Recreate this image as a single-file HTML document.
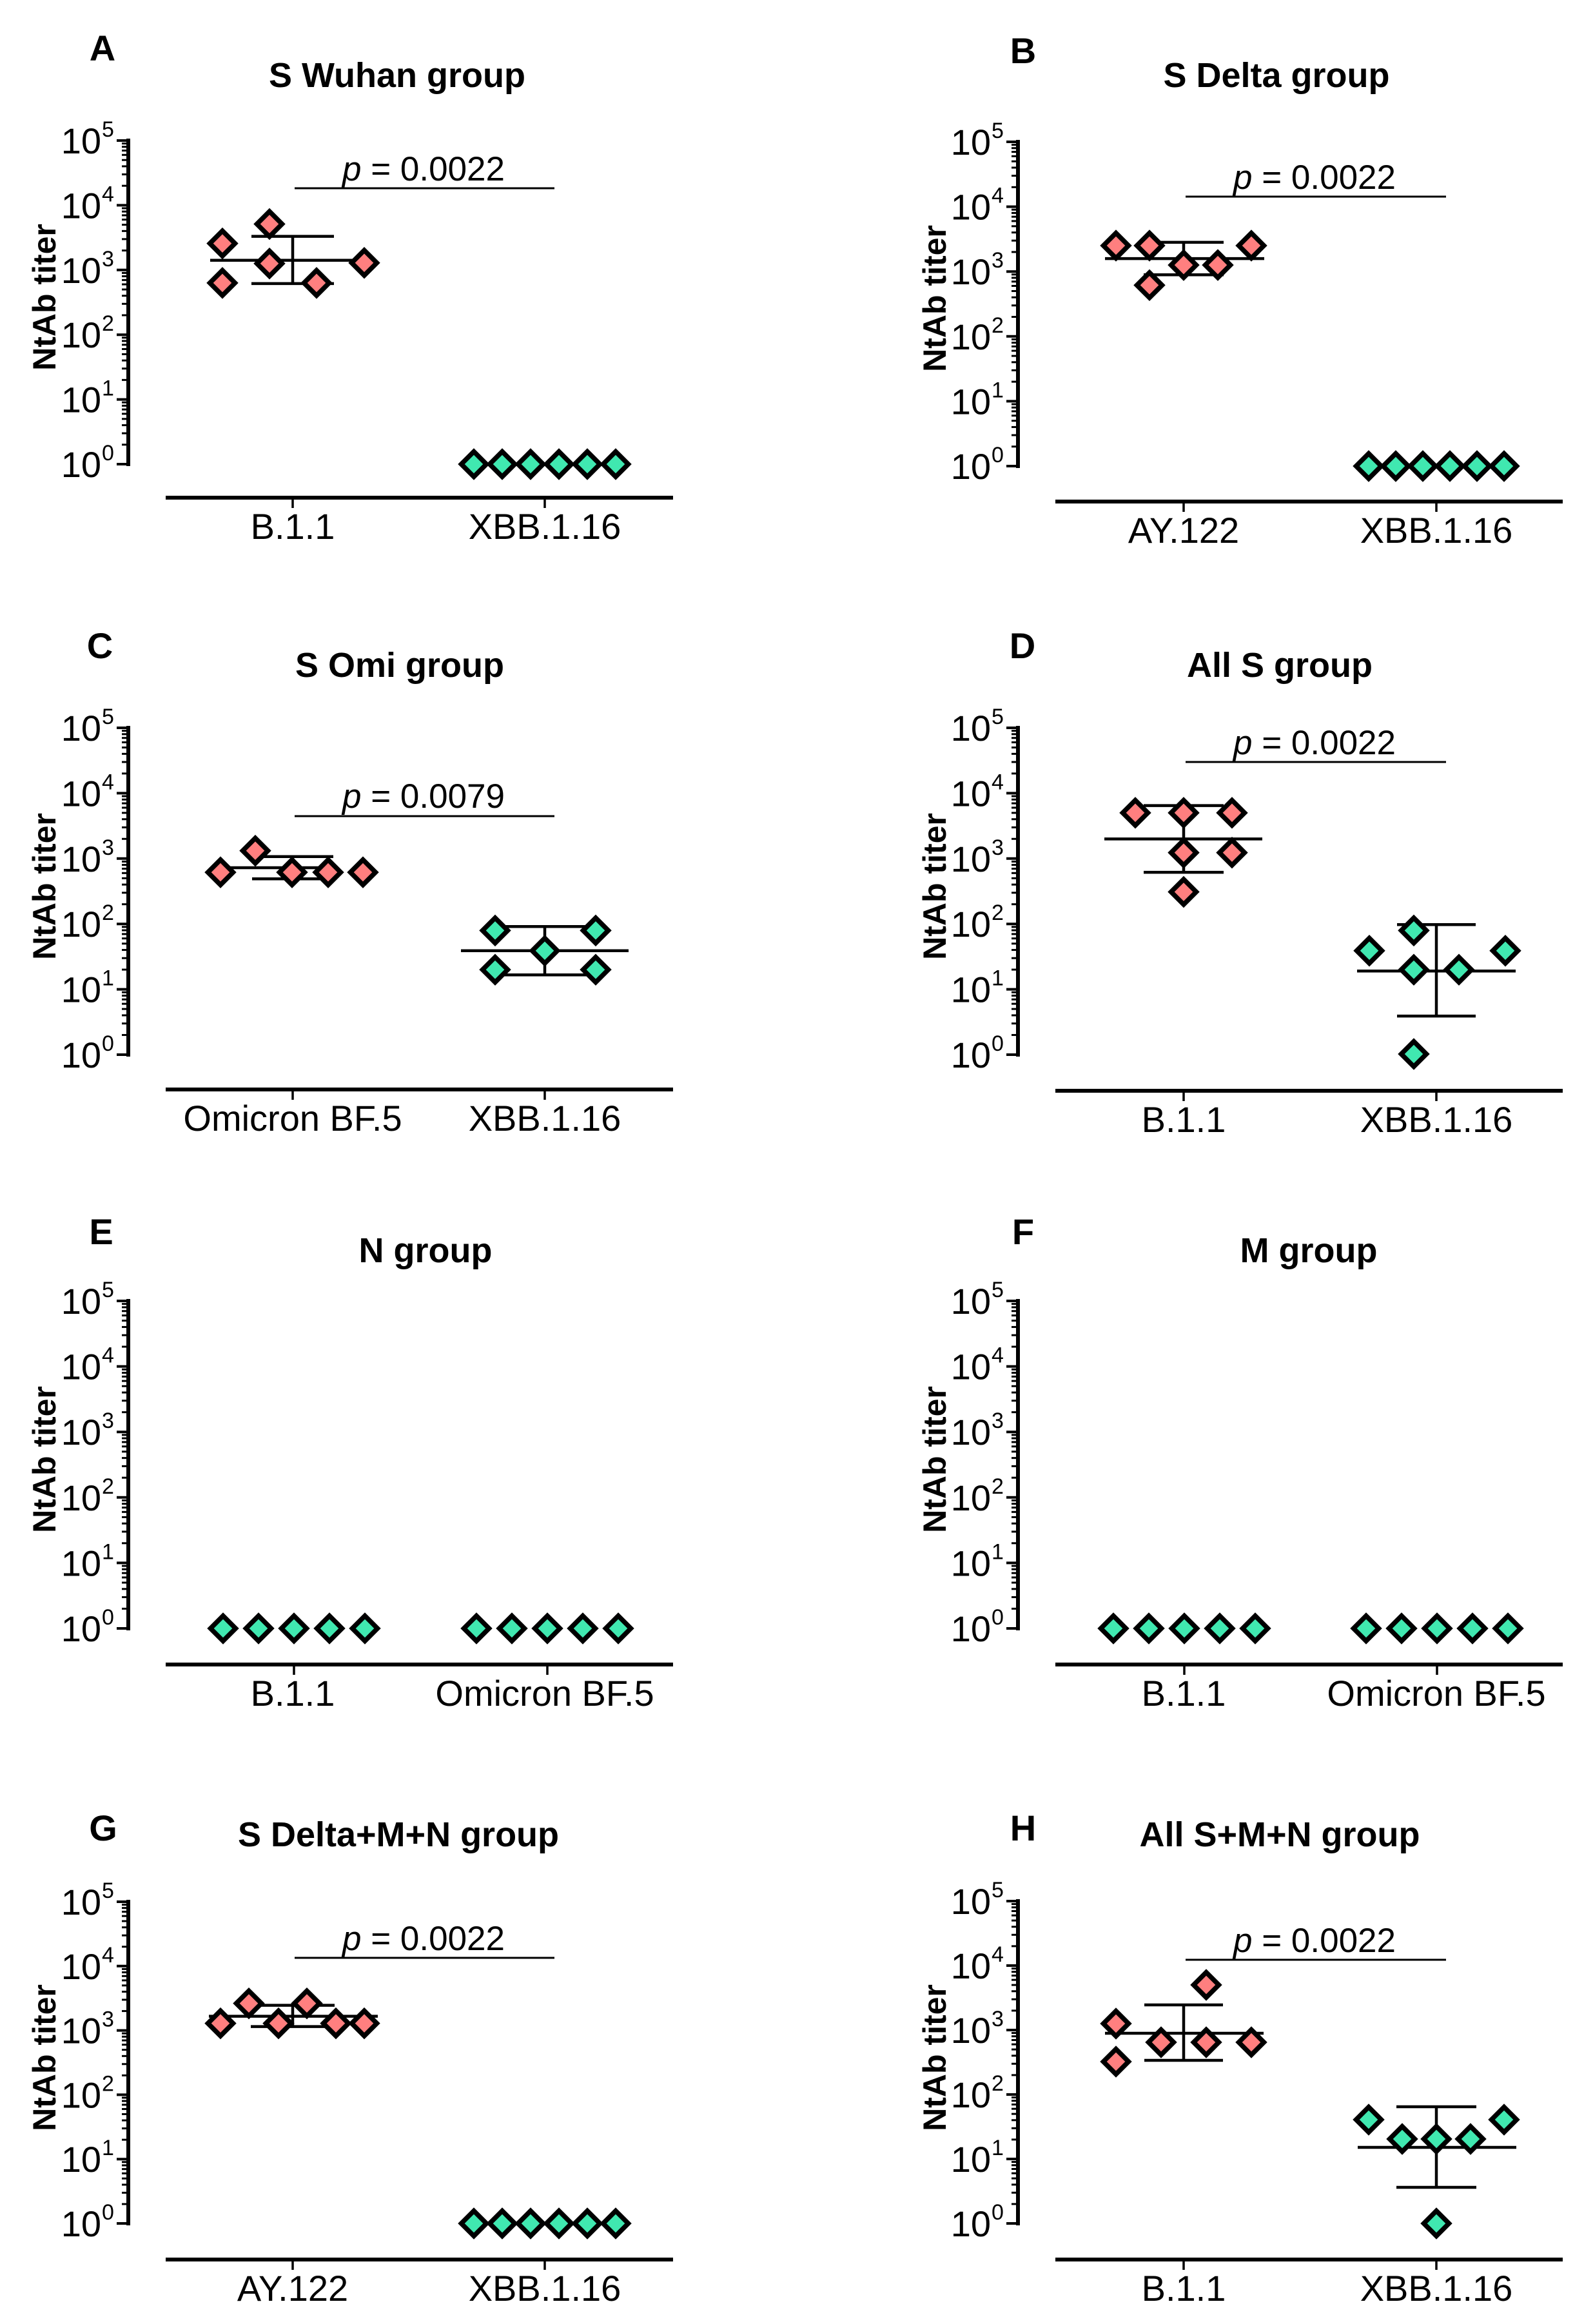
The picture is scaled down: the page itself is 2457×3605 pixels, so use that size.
<!DOCTYPE html>
<html><head><meta charset="utf-8"><style>
html,body{margin:0;padding:0;background:#fff;}
svg{display:block;}
text{font-family:"Liberation Sans",Arial,sans-serif;fill:#000;}
.lab{font-size:56px;font-weight:bold;}
.tit{font-size:54px;font-weight:bold;}
.cat{font-size:56px;}
.yl{font-size:50px;font-weight:bold;}
.tk{font-size:56px;}
.sup{font-size:34px;}
.pv{font-size:53px;}
</style></head><body>
<svg id="s" width="2457" height="3605" viewBox="0 0 2457 3605" xmlns="http://www.w3.org/2000/svg">
<g id="g"></g>
<text class="lab" x="159" y="94" text-anchor="middle">A</text>
<text class="lab" x="1587" y="98" text-anchor="middle">B</text>
<text class="lab" x="155" y="1021" text-anchor="middle">C</text>
<text class="lab" x="1586" y="1021" text-anchor="middle">D</text>
<text class="lab" x="157" y="1930" text-anchor="middle">E</text>
<text class="lab" x="1587" y="1930" text-anchor="middle">F</text>
<text class="lab" x="160" y="2855" text-anchor="middle">G</text>
<text class="lab" x="1587" y="2855" text-anchor="middle">H</text>
<text class="tit" x="616" y="135" text-anchor="middle">S Wuhan group</text>
<text class="tit" x="1980" y="135" text-anchor="middle">S Delta group</text>
<text class="tit" x="620" y="1050" text-anchor="middle">S Omi group</text>
<text class="tit" x="1985" y="1050" text-anchor="middle">All S group</text>
<text class="tit" x="660" y="1958" text-anchor="middle">N group</text>
<text class="tit" x="2030" y="1958" text-anchor="middle">M group</text>
<text class="tit" x="618" y="2864" text-anchor="middle">S Delta+M+N group</text>
<text class="tit" x="1985" y="2864" text-anchor="middle">All S+M+N group</text>
<text class="cat" x="454" y="836" text-anchor="middle">B.1.1</text>
<text class="cat" x="845" y="836" text-anchor="middle">XBB.1.16</text>
<text class="cat" x="1836" y="842" text-anchor="middle">AY.122</text>
<text class="cat" x="2228" y="842" text-anchor="middle">XBB.1.16</text>
<text class="cat" x="454" y="1754" text-anchor="middle">Omicron BF.5</text>
<text class="cat" x="845" y="1754" text-anchor="middle">XBB.1.16</text>
<text class="cat" x="1836" y="1756" text-anchor="middle">B.1.1</text>
<text class="cat" x="2228" y="1756" text-anchor="middle">XBB.1.16</text>
<text class="cat" x="454" y="2646" text-anchor="middle">B.1.1</text>
<text class="cat" x="845" y="2646" text-anchor="middle">Omicron BF.5</text>
<text class="cat" x="1836" y="2646" text-anchor="middle">B.1.1</text>
<text class="cat" x="2228" y="2646" text-anchor="middle">Omicron BF.5</text>
<text class="cat" x="454" y="3569" text-anchor="middle">AY.122</text>
<text class="cat" x="845" y="3569" text-anchor="middle">XBB.1.16</text>
<text class="cat" x="1836" y="3569" text-anchor="middle">B.1.1</text>
<text class="cat" x="2228" y="3569" text-anchor="middle">XBB.1.16</text>
<text class="yl" transform="translate(86,461) rotate(-90)" text-anchor="middle">NtAb titer</text>
<text class="yl" transform="translate(1467,463) rotate(-90)" text-anchor="middle">NtAb titer</text>
<text class="yl" transform="translate(86,1375) rotate(-90)" text-anchor="middle">NtAb titer</text>
<text class="yl" transform="translate(1467,1375) rotate(-90)" text-anchor="middle">NtAb titer</text>
<text class="yl" transform="translate(86,2264) rotate(-90)" text-anchor="middle">NtAb titer</text>
<text class="yl" transform="translate(1467,2264) rotate(-90)" text-anchor="middle">NtAb titer</text>
<text class="yl" transform="translate(86,3192) rotate(-90)" text-anchor="middle">NtAb titer</text>
<text class="yl" transform="translate(1467,3192) rotate(-90)" text-anchor="middle">NtAb titer</text>
<text class="pv" x="657" y="280" text-anchor="middle"><tspan font-style="italic">p</tspan> = 0.0022</text>
<text class="pv" x="2039" y="293" text-anchor="middle"><tspan font-style="italic">p</tspan> = 0.0022</text>
<text class="pv" x="657" y="1253" text-anchor="middle"><tspan font-style="italic">p</tspan> = 0.0079</text>
<text class="pv" x="2039" y="1170" text-anchor="middle"><tspan font-style="italic">p</tspan> = 0.0022</text>
<text class="pv" x="657" y="3025" text-anchor="middle"><tspan font-style="italic">p</tspan> = 0.0022</text>
<text class="pv" x="2039" y="3028" text-anchor="middle"><tspan font-style="italic">p</tspan> = 0.0022</text>
<g id="tl"></g>
</svg>
<script>
var NS="http://www.w3.org/2000/svg",G=document.getElementById("g"),TL=document.getElementById("tl");
function el(t,a,p){var e=document.createElementNS(NS,t);for(var k in a)e.setAttribute(k,a[k]);(p||G).appendChild(e);return e;}
function line(x1,y1,x2,y2,w){el("line",{x1:x1,y1:y1,x2:x2,y2:y2,stroke:"#000","stroke-width":w});}
function dia(x,y,c){var h=19.5;el("polygon",{points:(x)+","+(y-h)+" "+(x+h)+","+y+" "+x+","+(y+h)+" "+(x-h)+","+y,fill:c,stroke:"#000","stroke-width":7.4,"stroke-linejoin":"miter"});}
var R="#ff7f7f",Gr="#40e8b0";
function panel(P){
 var ax=P.ax,y5=P.y5,y0=P.y0,d=(y0-y5)/5;
 function Y(v){return y0-v*d;}
 line(ax,y5-3,ax,y0+3,6);
 for(var n=0;n<=5;n++){
  line(ax-18,Y(n),ax,Y(n),4);
  var t=el("text",{x:ax-42,y:Y(n)+20,"text-anchor":"end","class":"tk"},TL);t.textContent="10";
  var s=el("text",{x:ax-41,y:Y(n)-6,"class":"sup"},TL);s.textContent=""+n;
  if(n<5)for(var m=2;m<=9;m++){line(ax-10,Y(n+Math.log10(m)),ax,Y(n+Math.log10(m)),3);}
 }
 line(ax+58,P.xa,ax+845,P.xa,6);
 line(P.t1,P.xa,P.t1,P.xa+16,3.5);line(P.t2,P.xa,P.t2,P.xa+16,3.5);
 if(P.pb)line(P.t1+3,P.pb,P.t2+15,P.pb,3);
 (P.eb||[]).forEach(function(e){
  var cx=e[0]==1?P.t1:P.t2;
  line(cx+e[1],Y(e[3]),cx+e[2],Y(e[3]),4.5);
  line(cx-e[4],Y(e[5]),cx+e[4],Y(e[5]),4.5);
  line(cx-e[4],Y(e[6]),cx+e[4],Y(e[6]),4.5);
  line(cx,Y(e[5]),cx,Y(e[6]),4.5);
 });
 (P.pts||[]).forEach(function(p){var cx=p[0]==1?P.t1:P.t2;dia(cx+p[1],Y(p[2]),p[0]==1?(P.c1||R):Gr);});
}
function six(g,v,step){var a=[];for(var i=0;i<6;i++)a.push([g,(i-2.5)*step,v]);return a;}
function five(g,v,step){var a=[];for(var i=0;i<5;i++)a.push([g,(i-2)*step,v]);return a;}
var L=199,Rx=1579,t1L=454,t2L=845,t1R=1836,t2R=2228;
panel({ax:L,y5:218,y0:720,xa:772,t1:t1L,t2:t2L,pb:292,
 eb:[[1,-128,111,3.15,64,3.52,2.79]],
 pts:[[1,-109,3.41],[1,-36,3.71],[1,-36,3.10],[1,-109,2.80],[1,37,2.80],[1,111,3.11]].concat(six(2,0,44))});
panel({ax:Rx,y5:220,y0:723,xa:778,t1:t1R,t2:t2R,pb:305,
 eb:[[1,-122,125,3.20,62,3.45,2.95]],
 pts:[[1,-105,3.40],[1,-53,3.40],[1,0,3.10],[1,53,3.10],[1,105,3.40],[1,-53,2.79]].concat(six(2,0,42))});
panel({ax:L,y5:1129,y0:1636,xa:1690,t1:t1L,t2:t2L,pb:1266,
 eb:[[1,-114,62,2.86,63,3.03,2.69],[2,-130,130,1.59,78,1.96,1.22]],
 pts:[[1,-112,2.79],[1,-58,3.12],[1,-1,2.79],[1,55,2.79],[1,109,2.79],
      [2,-77,1.90],[2,79,1.90],[2,0,1.59],[2,-77,1.30],[2,79,1.30]]});
panel({ax:Rx,y5:1129,y0:1636,xa:1692,t1:t1R,t2:t2R,pb:1182,
 eb:[[1,-123,122,3.30,62,3.81,2.79],[2,-123,123,1.28,61,1.99,0.59]],
 pts:[[1,-75,3.70],[1,0,3.70],[1,75,3.70],[1,0,3.09],[1,75,3.09],[1,0,2.49],
      [2,-104,1.59],[2,-35,1.90],[2,-35,1.30],[2,35,1.30],[2,107,1.59],[2,-35,0.01]]});
panel({ax:L,y5:2018,y0:2526,xa:2582,t1:t1L+2,t2:t2L+4,c1:Gr,pts:five(1,0,55).concat(five(2,0,55))});
panel({ax:Rx,y5:2018,y0:2526,xa:2582,t1:t1R+1,t2:t2R+1,c1:Gr,pts:five(1,0,55).concat(five(2,0,55))});
panel({ax:L,y5:2950,y0:3449,xa:3505,t1:t1L,t2:t2L,pb:3037,
 eb:[[1,-130,132,3.22,65,3.39,3.06]],
 pts:[[1,-112,3.11],[1,-68,3.42],[1,-22,3.11],[1,22,3.42],[1,67,3.11],[1,111,3.11]].concat(six(2,0,44))});
panel({ax:Rx,y5:2949,y0:3449,xa:3505,t1:t1R,t2:t2R,pb:3040,
 eb:[[1,-122,124,2.95,61,3.39,2.53],[2,-122,124,1.18,62,1.81,0.56]],
 pts:[[1,-105,3.10],[1,-35,2.81],[1,35,3.70],[1,35,2.81],[1,105,2.81],[1,-105,2.51],
      [2,-105,1.61],[2,-53,1.31],[2,0,1.31],[2,53,1.31],[2,105,1.61],[2,0,0]]});
</script>
</body></html>
